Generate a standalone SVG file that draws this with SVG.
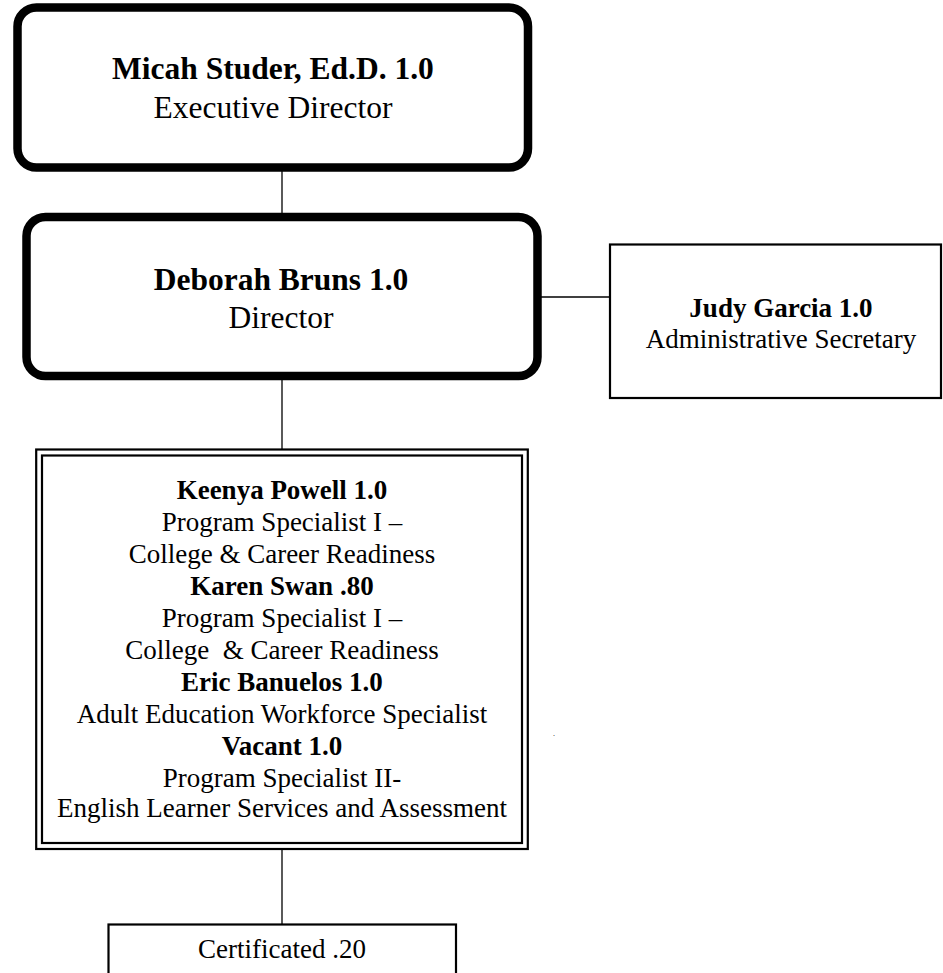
<svg xmlns="http://www.w3.org/2000/svg" width="943" height="973" viewBox="0 0 943 973">
  <style>
    text { font-family: "Liberation Serif", "Times New Roman", serif; fill: #000; text-anchor: middle; }
    .big { font-size: 31.5px; }
    .mid { font-size: 27px; }
    .b { font-weight: bold; }
    .lead { fill: #fff; stroke: #000; stroke-width: 8.5; }
    .box { fill: #fff; stroke: #000; stroke-width: 2.2; }
    .dbl { fill: none; stroke: #000; stroke-width: 2.2; }
    .wire { stroke: #000; stroke-width: 1.3; fill: none; }
  </style>
  <rect width="943" height="973" fill="#fff"/>

  <!-- reporting lines -->
  <g id="connectors">
    <line class="wire" x1="282" y1="171" x2="282" y2="214"/>
    <line class="wire" x1="282" y1="380" x2="282" y2="450"/>
    <line class="wire" x1="541" y1="297" x2="610" y2="297"/>
    <line class="wire" x1="282" y1="849" x2="282" y2="925"/>
  </g>

  <g id="executive-director">
    <rect class="lead" x="17.5" y="7.5" width="510.5" height="160" rx="19"/>
    <text class="big b" x="273" y="79">Micah Studer, Ed.D. 1.0</text>
    <text class="big" x="273" y="118">Executive Director</text>
  </g>

  <g id="director">
    <rect class="lead" x="26.5" y="217" width="511" height="159" rx="19"/>
    <text class="big b" x="281" y="290">Deborah Bruns 1.0</text>
    <text class="big" x="281" y="328">Director</text>
  </g>

  <g id="admin-secretary">
    <rect class="box" x="610" y="244.5" width="331" height="153.5"/>
    <text class="mid b" x="781" y="317">Judy Garcia 1.0</text>
    <text class="mid" x="781" y="348">Administrative Secretary</text>
  </g>

  <g id="program-staff">
    <rect class="dbl" x="36.2" y="449.5" width="491.6" height="399.5"/>
    <rect class="dbl" x="42" y="455.5" width="480" height="387.5"/>
    <text class="mid b" x="282" y="499">Keenya Powell 1.0</text>
    <text class="mid" x="282" y="531">Program Specialist I –</text>
    <text class="mid" x="282" y="563">College &amp; Career Readiness</text>
    <text class="mid b" x="282" y="595">Karen Swan .80</text>
    <text class="mid" x="282" y="627">Program Specialist I –</text>
    <text class="mid" x="282" y="659" xml:space="preserve">College  &amp; Career Readiness</text>
    <text class="mid b" x="282" y="691">Eric Banuelos 1.0</text>
    <text class="mid" x="282" y="723">Adult Education Workforce Specialist</text>
    <text class="mid b" x="282" y="755">Vacant 1.0</text>
    <text class="mid" x="282" y="787">Program Specialist II-</text>
    <text class="mid" x="282" y="817">English Learner Services and Assessment</text>
  </g>

  <text x="554" y="736" style="font-size:8px">.</text>

  <g id="certificated">
    <rect class="box" x="108.5" y="924.5" width="347.5" height="70"/>
    <text class="mid" x="282" y="958">Certificated .20</text>
  </g>
</svg>
